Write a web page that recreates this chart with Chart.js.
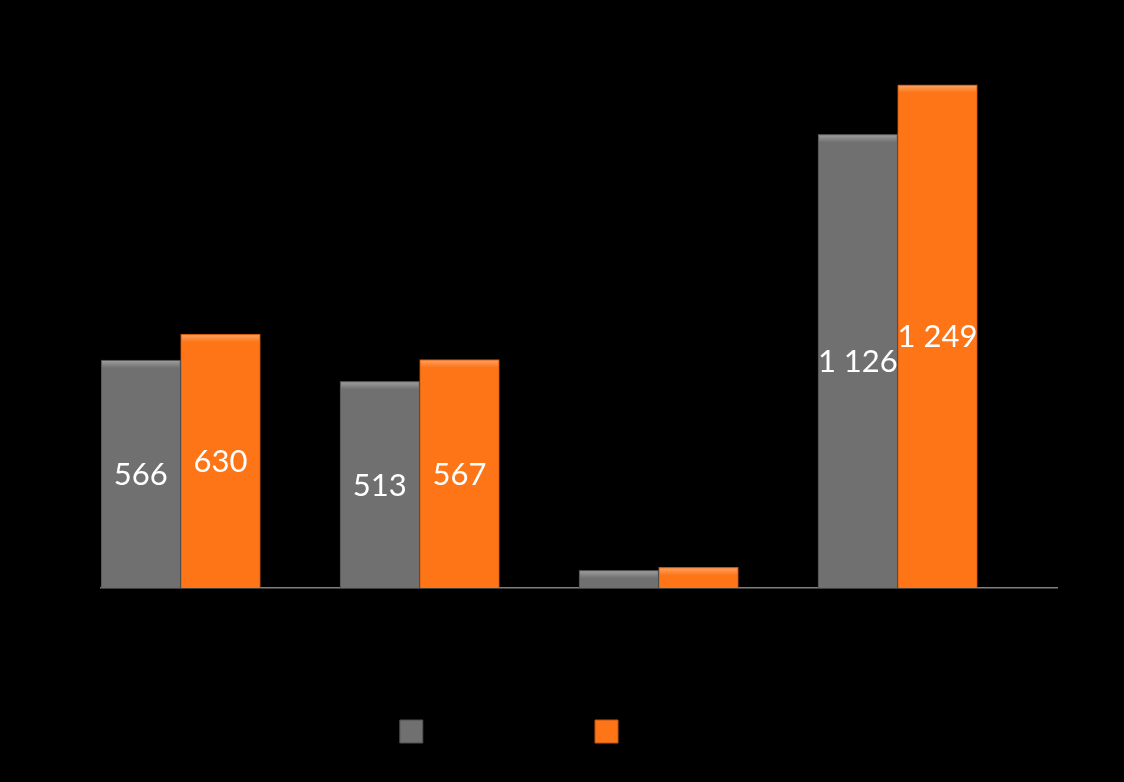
<!DOCTYPE html>
<html>
<head>
<meta charset="utf-8">
<script src="https://cdn.jsdelivr.net/npm/chart.js@4"></script>
<style>
  html, body { margin: 0; padding: 0; background: #000; }
  #wrap { width: 1124px; height: 782px; }
</style>
</head>
<body>
<div id="wrap"><canvas id="chart" width="1124" height="782"></canvas></div>
<script>
// Chart values
const categories = ['A', 'B', 'C', 'D'];
const seriesNames = ['Series one', 'Series two'];
const firstValues = [566, 513, 44, 1126];
const secondValues = [630, 567, 51, 1249];
const emptyValues = [0, 0, 0, 0];   // third, invisible series in the original
const yMax = 1400;

const grayFill = '#707070';
const grayEdge = '#4f4f4f';
const orangeFill = '#fd7517';
const orangeEdge = '#c05410';

function formatValue(v) {
    return String(v).replace(/\B(?=(\d{3})+(?!\d))/g, ' ');
}

// White value labels in the middle of the tall bars
const valueLabels = {
    id: 'valueLabels',
    afterDatasetsDraw(chart) {
        const ctx = chart.ctx;
        ctx.save();
        ctx.font = '31px Lato';
        ctx.fillStyle = '#ffffff';
        ctx.textAlign = 'center';
        ctx.textBaseline = 'middle';
        chart.data.datasets.forEach((ds, i) => {
            if (!ds.showValues) return;
            chart.getDatasetMeta(i).data.forEach((bar, j) => {
                if (bar.base - bar.y < 60) return;
                ctx.fillText(formatValue(ds.data[j]), bar.x, (bar.y + bar.base) / 2 + 1);
            });
        });
        ctx.restore();
    }
};

// Light band along the top of each bar
const bevel = {
    id: 'bevel',
    afterDatasetsDraw(chart) {
        const ctx = chart.ctx;
        ctx.save();
        chart.data.datasets.forEach((ds, i) => {
            if (!ds.showValues) return;
            chart.getDatasetMeta(i).data.forEach(bar => {
                const w = bar.width;
                const left = bar.x - w / 2;
                const g = ctx.createLinearGradient(0, bar.y, 0, bar.y + 8);
                g.addColorStop(0, 'rgba(255,255,255,0.35)');
                g.addColorStop(1, 'rgba(255,255,255,0)');
                ctx.fillStyle = g;
                ctx.fillRect(left + 1, bar.y + 1, w - 2, Math.min(8, bar.base - bar.y - 2));
            });
        });
        ctx.restore();
    }
};

const ctx = document.getElementById('chart').getContext('2d');
new Chart(ctx, {
    type: 'bar',
    data: {
        labels: categories,
        datasets: [
            {
                label: seriesNames[0],
                data: firstValues,
                backgroundColor: grayFill,
                borderColor: grayEdge,
                borderWidth: 1,
                showValues: true
            },
            {
                label: seriesNames[1],
                data: secondValues,
                backgroundColor: orangeFill,
                borderColor: orangeEdge,
                borderWidth: 1,
                showValues: true
            },
            {
                label: '',
                data: emptyValues,
                backgroundColor: 'rgba(0,0,0,0)',
                borderWidth: 0
            }
        ]
    },
    options: {
        responsive: false,
        animation: false,
        categoryPercentage: 1,
        barPercentage: 1,
        layout: {
            padding: { top: 24, left: 101, right: 67, bottom: 29 }
        },
        plugins: {
            legend: {
                position: 'bottom',
                labels: {
                    filter: item => item.datasetIndex < 2,
                    boxWidth: 23,
                    boxHeight: 23,
                    padding: 32,
                    color: '#000000',
                    font: { family: 'DejaVu Sans Mono', size: 21.5 }
                }
            },
            tooltip: { enabled: false }
        },
        scales: {
            x: {
                grid: { display: false },
                border: { display: true, color: '#7f7f7f', width: 1.5 },
                ticks: { display: false },
                afterFit: scale => { scale.height = 100; }
            },
            y: {
                display: false,
                min: 0,
                max: yMax
            }
        }
    },
    plugins: [valueLabels, bevel]
});
</script>
</body>
</html>
